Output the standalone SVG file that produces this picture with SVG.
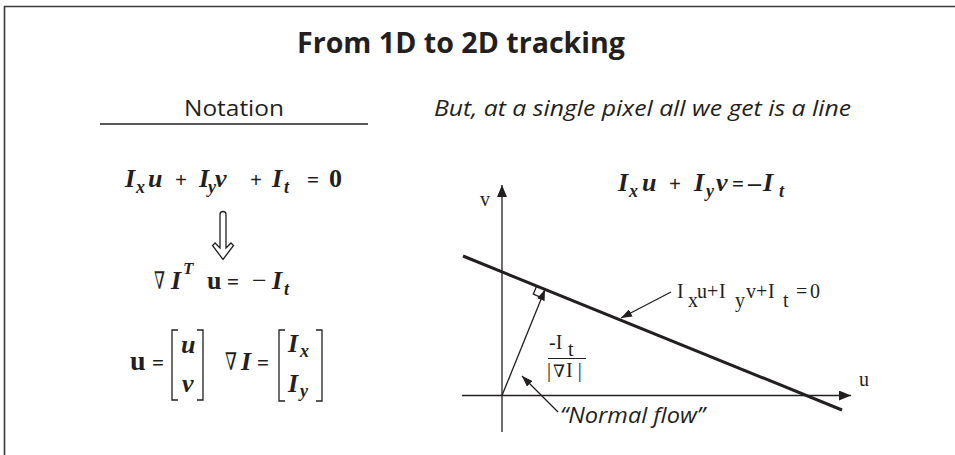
<svg xmlns="http://www.w3.org/2000/svg" width="955" height="455" viewBox="0 0 955 455">
<style>
.sans{font-family:"Open Sans","Noto Sans","DejaVu Sans",sans-serif;fill:#231f20}
.eq{font-family:"Liberation Serif","Times New Roman",serif;fill:#231f20;font-weight:bold;font-size:26px}
.it{font-style:italic}
.up{font-style:normal}
.sub{font-size:18px}
.op{font-style:normal;font-size:21px}
.nab{font-family:"DejaVu Serif",serif;fill:#231f20;font-weight:normal}
.lbl{font-family:"Liberation Serif","Times New Roman",serif;fill:#231f20;font-size:20px}
.ln{stroke:#231f20;fill:none;stroke-width:1.3}
.br{stroke:#231f20;fill:none;stroke-width:1.3}
</style>
<defs>
<marker id="ahBig" viewBox="0 0 12 10" refX="12" refY="5" markerWidth="12" markerHeight="10" markerUnits="userSpaceOnUse" orient="auto"><path d="M0,0 L12,5 L0,10 Z" fill="#231f20"/></marker>
<marker id="ahSm" viewBox="0 0 11 8" refX="11" refY="4" markerWidth="11" markerHeight="8" markerUnits="userSpaceOnUse" orient="auto"><path d="M0,0 L11,4 L0,8 Z" fill="#231f20"/></marker>
</defs>
<rect width="955" height="455" fill="#fff"/>
<g id="frame">
<path d="M4.5,455 V6.5 H955" fill="none" stroke="#3a3a3a" stroke-width="1.6"/>
</g>
<g id="title">
<text class="sans" x="461" y="53" font-size="28" font-weight="bold" text-anchor="middle" textLength="328" lengthAdjust="spacingAndGlyphs">From 1D to 2D tracking</text>
</g>
<g id="notation">
<text class="sans" x="234" y="116" font-size="21" text-anchor="middle" textLength="100" lengthAdjust="spacingAndGlyphs">Notation</text>
<line x1="100" y1="124" x2="368" y2="124" stroke="#231f20" stroke-width="1.3"/>
</g>
<g id="subtitle">
<text class="sans" x="434" y="116" font-size="21" font-style="italic" textLength="417" lengthAdjust="spacingAndGlyphs">But, at a single pixel all we get is a line</text>
</g>
<g id="eq1">
<text class="eq it"><tspan x="125" y="187">I</tspan><tspan class="sub" x="136" y="193">x</tspan><tspan x="148" y="187">u</tspan><tspan class="op" x="175" y="187">+</tspan><tspan x="199" y="187">I</tspan><tspan class="sub" x="208" y="193">y</tspan><tspan x="215" y="187">v</tspan><tspan class="op" x="250" y="187">+</tspan><tspan x="272" y="187">I</tspan><tspan class="sub" x="284" y="193">t</tspan><tspan class="op" x="307" y="187">=</tspan><tspan class="up" x="329" y="187">0</tspan></text>
</g>
<g id="implies">
<path d="M220,248 V214.5 A3,3 0 0 1 226,214.5 V248 L231,243 L233.5,245.5 L223,259.5 L212.5,245.5 L215,243 Z" fill="#fff" stroke="#231f20" stroke-width="1.3"/>
</g>
<g id="eq2">
<text class="nab" x="154" y="289" font-size="24" textLength="11" lengthAdjust="spacingAndGlyphs">∇</text>
<text class="eq"><tspan class="it" x="171" y="289">I</tspan><tspan class="it" x="183" y="274" font-size="17">T</tspan><tspan x="207" y="289">u</tspan><tspan class="op" x="227" y="289">=</tspan><tspan x="252" y="289" font-weight="normal">−</tspan><tspan class="it" x="272" y="289">I</tspan><tspan class="it sub" x="284" y="295">t</tspan></text>
</g>
<g id="eq3">
<text class="eq"><tspan x="130" y="370" font-size="28">u</tspan><tspan class="op" x="152" y="370">=</tspan></text>
<path class="br" d="M178,330 H172 V400 H178 M197,330 H203 V400 H197"/>
<text class="eq it"><tspan x="181" y="353">u</tspan><tspan x="182" y="392">v</tspan></text>
<text class="nab" x="225" y="370" font-size="24" textLength="12" lengthAdjust="spacingAndGlyphs">∇</text>
<text class="eq"><tspan class="it" x="241" y="370">I</tspan><tspan class="op" x="257" y="370">=</tspan></text>
<path class="br" d="M285,330 H279 V401 H285 M316,330 H322 V401 H316"/>
<text class="eq it"><tspan x="288" y="352">I</tspan><tspan class="sub" x="300" y="357">x</tspan><tspan x="288" y="392">I</tspan><tspan class="sub" x="300" y="397">y</tspan></text>
</g>
<g id="eq-right">
<text class="eq it"><tspan x="618" y="191">I</tspan><tspan class="sub" x="629" y="197">x</tspan><tspan x="642" y="191">u</tspan><tspan class="op" x="669" y="191">+</tspan><tspan x="694" y="191">I</tspan><tspan class="sub" x="706" y="197">y</tspan><tspan x="716" y="191">v</tspan><tspan class="op" x="732" y="191">=</tspan><tspan class="up" x="748" y="191">–</tspan><tspan x="763" y="191">I</tspan><tspan class="sub" x="779" y="197">t</tspan></text>
</g>
<g id="axes">
<text class="lbl" x="480" y="206" font-size="18">v</text>
<text class="lbl" x="859" y="386" font-size="18">u</text>
</g>
<g id="constraint-line">
<line x1="463" y1="256" x2="842" y2="410" stroke="#231f20" stroke-width="3"/>
<polyline class="ln" points="536.7,285.9 533.3,294.2 541.6,297.6"/>
</g>
<g id="line-label">
<text class="lbl"><tspan x="677" y="298">I</tspan><tspan x="688" y="307">x</tspan><tspan x="697" y="298">u</tspan><tspan x="707" y="298">+</tspan><tspan x="719" y="298">I</tspan><tspan x="735" y="307">y</tspan><tspan x="746" y="298">v</tspan><tspan x="756" y="298">+</tspan><tspan x="768" y="298">I</tspan><tspan x="783" y="307">t</tspan><tspan x="796" y="298">=</tspan><tspan x="810" y="298">0</tspan></text>
</g>
<g id="fraction">
<text class="lbl"><tspan x="549" y="349">-I</tspan><tspan x="568" y="356">t</tspan></text>
<line x1="548" y1="358.5" x2="586" y2="358.5" stroke="#231f20" stroke-width="1"/>
<text class="lbl" x="547" y="377">|</text>
<text class="nab" x="553" y="377" font-size="17" textLength="12" lengthAdjust="spacingAndGlyphs">∇</text>
<text class="lbl" x="566" y="377">I |</text>
</g>
<g id="normal-flow-label">
<text class="sans" x="560" y="423" font-size="22" font-style="italic" textLength="145" lengthAdjust="spacingAndGlyphs">“Normal flow”</text>
</g>
<g id="connectors">
<line class="ln" x1="502" y1="432" x2="502" y2="185" marker-end="url(#ahBig)"/>
<line class="ln" x1="462" y1="395.5" x2="851" y2="395.5" marker-end="url(#ahBig)"/>
<line class="ln" x1="502" y1="395.5" x2="545" y2="289.5" marker-end="url(#ahSm)"/>
<line class="ln" x1="671" y1="292" x2="621" y2="318" marker-end="url(#ahSm)"/>
<line class="ln" x1="558" y1="412" x2="522" y2="376" marker-end="url(#ahSm)"/>
</g>
</svg>
